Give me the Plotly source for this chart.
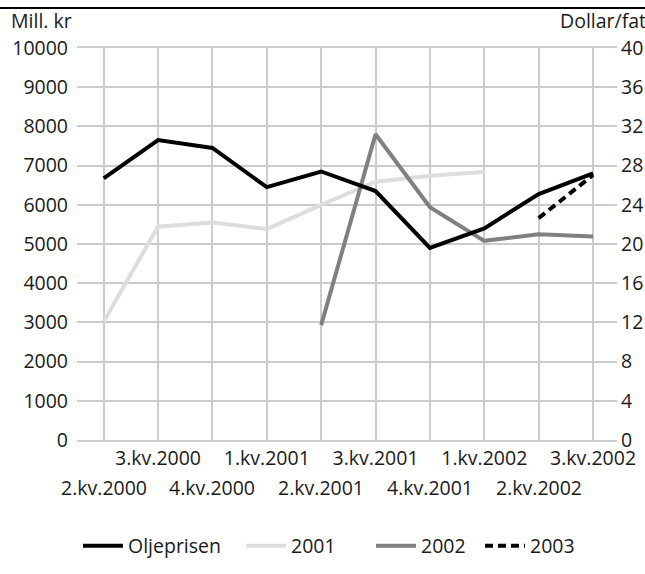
import plotly.graph_objects as go

quarters = ["2.kv.2000", "3.kv.2000", "4.kv.2000", "1.kv.2001", "2.kv.2001",
            "3.kv.2001", "4.kv.2001", "1.kv.2002", "2.kv.2002", "3.kv.2002"]
oljeprisen = [26.7, 30.6, 29.8, 25.8, 27.4, 25.4, 19.6, 21.6, 25.1, 27.2]   # Dollar/fat (right axis)
s2001 = [3020, 5440, 5550, 5380, 6000, 6590, 6740, 6840, None, None]      # Mill. kr
s2002 = [None, None, None, None, 2930, 7800, 5940, 5080, 5250, 5190]
s2003 = [None, None, None, None, None, None, None, None, 5660, 6760]

W, H = 645, 574
L, R, T, B = 77, 28, 48, 134
pw, ph = W - L - R, H - T - B
XR = [-0.49, 9.44]

def px_x(p):
    return (p - L) / pw

def px_y(p):
    return (H - B - p) / ph

FONT = "Open Sans"
FS = 19.5
TXT = "#1a1a1a"
GRID = "#cccccc"
xs = list(range(len(quarters)))

fig = go.Figure()
fig.add_trace(go.Scatter(x=xs, y=oljeprisen, name="Oljeprisen", yaxis="y2", legend="legend",
                         mode="lines", line=dict(color="#000000", width=4)))
fig.add_trace(go.Scatter(x=xs, y=s2001, name="2001", mode="lines", legend="legend2",
                         line=dict(color="#dddddd", width=4)))
fig.add_trace(go.Scatter(x=xs, y=s2002, name="2002", mode="lines", legend="legend3",
                         line=dict(color="#808080", width=4)))
fig.add_trace(go.Scatter(x=xs, y=s2003, name="2003", mode="lines", legend="legend4",
                         line=dict(color="#000000", width=4, dash="8px,5px")))

ticktext = [q if i % 2 == 1 else "" for i, q in enumerate(quarters)]

annotations = []
for i, q in enumerate(quarters):
    if i % 2 == 0:
        annotations.append(dict(x=i, xref="x", y=px_y(488), yref="paper",
                                text=q, showarrow=False, xanchor="center", yanchor="middle",
                                font=dict(family=FONT, size=FS, color=TXT)))
annotations.append(dict(x=px_x(9), xref="paper", y=px_y(21), yref="paper", text="Mill. kr",
                        showarrow=False, xanchor="left", yanchor="middle",
                        font=dict(family=FONT, size=FS, color=TXT)))
annotations.append(dict(x=px_x(648), xref="paper", y=px_y(21), yref="paper", text="Dollar/fat",
                        showarrow=False, xanchor="right", yanchor="middle",
                        font=dict(family=FONT, size=FS, color=TXT)))

def leg(xpix):
    return dict(orientation="h", x=px_x(xpix), xanchor="left", y=px_y(546), yanchor="middle",
                font=dict(family=FONT, size=FS, color=TXT), itemwidth=40,
                bgcolor="rgba(0,0,0,0)")

fig.update_layout(
    width=W, height=H,
    margin=dict(l=L, r=R, t=T, b=B, autoexpand=False),
    paper_bgcolor="white", plot_bgcolor="white",
    font=dict(family=FONT, size=FS, color=TXT),
    showlegend=True,
    legend=leg(78), legend2=leg(241), legend3=leg(371), legend4=leg(480),
    xaxis=dict(range=XR, tickvals=xs, ticktext=ticktext, showgrid=True, automargin=False,
               gridcolor=GRID, gridwidth=2, showline=True, linecolor=GRID, linewidth=2,
               mirror=True, ticks="", zeroline=False, tickangle=0),
    yaxis=dict(range=[0, 10000], dtick=1000, tickformat="d", showgrid=True, gridcolor=GRID,
               gridwidth=2, ticks="", zeroline=False, showline=False, ticklabelstandoff=8,
               automargin=False),
    yaxis2=dict(range=[0, 40], dtick=4, overlaying="y", side="right", showgrid=False,
                ticks="", zeroline=False, showline=False, ticklabelstandoff=3,
                automargin=False),
    annotations=annotations,
    shapes=[dict(type="line", xref="paper", yref="paper", x0=px_x(0), x1=px_x(645),
                 y0=px_y(8), y1=px_y(8), line=dict(color="#000000", width=2))],
)

fig.write_html("out.html", config={"displayModeBar": False},
               post_script="document.body.style.margin='0px';")
